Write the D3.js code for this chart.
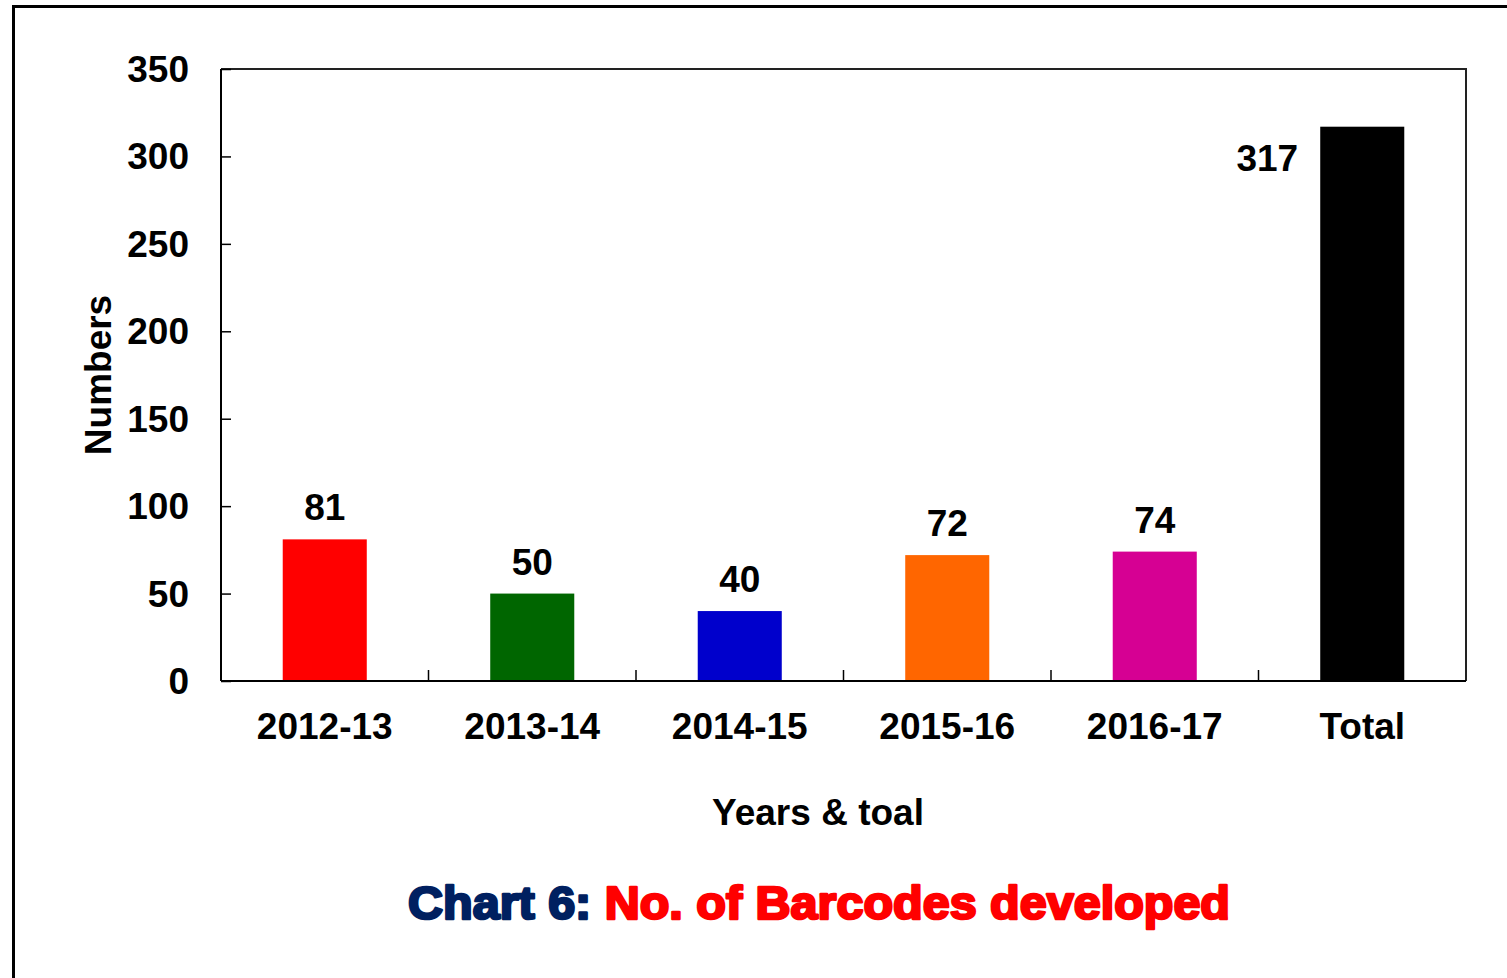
<!DOCTYPE html>
<html>
<head>
<meta charset="utf-8">
<script src="https://cdn.jsdelivr.net/npm/d3@7"></script>
<style>
  body { margin: 0; background: #fff; }
  text { font-family: "Liberation Sans", Arial, sans-serif; font-weight: bold; }
</style>
</head>
<body>
<svg width="1507" height="978"></svg>
<script>
// Chart data
var categories = ['2012-13', '2013-14', '2014-15', '2015-16', '2016-17', 'Total'];
var values = [81, 50, 40, 72, 74, 317];
var barColors = ['#ff0000', '#006600', '#0000cc', '#ff6600', '#d60093', '#000000'];
var yTicks = [0, 50, 100, 150, 200, 250, 300, 350];

var svg = d3.select('svg');

// Outer frame (runs off the right and bottom edges)
svg.append('rect')
    .attr('x', 13.5).attr('y', 6.5)
    .attr('width', 1600).attr('height', 1100)
    .attr('fill', 'none').attr('stroke', '#000').attr('stroke-width', 3);

var plot = {l: 221, t: 69, r: 1466, b: 681};

var xScale = d3.scaleBand()
    .domain(categories)
    .range([plot.l, plot.r])
    .paddingInner(0.595)
    .paddingOuter(0.2975);

var bandScale = d3.scaleBand()
    .domain(categories)
    .range([plot.l, plot.r]);

var yScale = d3.scaleLinear()
    .domain([0, 350])
    .range([plot.b, plot.t]);

// Bars
svg.selectAll('.bar')
    .data(values)
    .enter().append('rect')
    .attr('class', 'bar')
    .attr('x', function(d, i) { return xScale(categories[i]); })
    .attr('y', function(d) { return yScale(d); })
    .attr('width', xScale.bandwidth())
    .attr('height', function(d) { return yScale(0) - yScale(d); })
    .attr('fill', function(d, i) { return barColors[i]; });

// Plot frame top and right
svg.append('path')
    .attr('d', 'M' + plot.l + ',' + plot.t + 'H' + plot.r + 'V' + plot.b)
    .attr('fill', 'none').attr('stroke', '#222').attr('stroke-width', 2);

// Y axis, ticks pointing inward
var yAxisG = svg.append('g')
    .attr('transform', 'translate(' + plot.l + ',0)')
    .call(d3.axisRight(yScale).tickValues(yTicks).tickSize(10).tickFormat(''));
yAxisG.select('.domain').attr('stroke-width', 2).attr('d', 'M0,' + plot.t + 'V' + plot.b);
yAxisG.selectAll('.tick line').attr('stroke-width', 1.5);

svg.selectAll('.ylab')
    .data(yTicks)
    .enter().append('text')
    .attr('class', 'ylab')
    .attr('x', 189)
    .attr('y', function(d) { return yScale(d) + 13; })
    .attr('text-anchor', 'end')
    .attr('font-size', 37)
    .text(function(d) { return d; });

// X axis, ticks at category boundaries pointing inward
var xAxisG = svg.append('g')
    .attr('transform', 'translate(0,' + plot.b + ')');
xAxisG.append('line')
    .attr('x1', plot.l).attr('x2', plot.r)
    .attr('stroke', '#000').attr('stroke-width', 2);
xAxisG.selectAll('.xtick')
    .data(categories.slice(1))
    .enter().append('line')
    .attr('x1', function(d) { return bandScale(d); })
    .attr('x2', function(d) { return bandScale(d); })
    .attr('y1', 0).attr('y2', -11)
    .attr('stroke', '#000').attr('stroke-width', 1.5);

svg.selectAll('.xlab')
    .data(categories)
    .enter().append('text')
    .attr('class', 'xlab')
    .attr('x', function(d) { return xScale(d) + xScale.bandwidth() / 2; })
    .attr('y', 739)
    .attr('text-anchor', 'middle')
    .attr('font-size', 37)
    .text(function(d) { return d; });

// Value labels
svg.selectAll('.vlab')
    .data(values)
    .enter().append('text')
    .attr('class', 'vlab')
    .attr('x', function(d, i) {
        var cx = xScale(categories[i]) + xScale.bandwidth() / 2;
        return i === values.length - 1 ? cx - 95 : cx;
    })
    .attr('y', function(d, i) {
        return i === values.length - 1 ? yScale(d) + 44 : yScale(d) - 19;
    })
    .attr('text-anchor', 'middle')
    .attr('font-size', 37)
    .text(function(d) { return d; });

// Axis titles
svg.append('text')
    .attr('transform', 'translate(111,375) rotate(-90)')
    .attr('text-anchor', 'middle')
    .attr('font-size', 37)
    .text('Numbers');

svg.append('text')
    .attr('x', 818).attr('y', 825)
    .attr('text-anchor', 'middle')
    .attr('font-size', 37)
    .text('Years & toal');

// Chart caption
var cap = svg.append('text')
    .attr('x', 408).attr('y', 919)
    .attr('font-size', 47)
    .attr('stroke-width', 2.6)
    .attr('stroke-linejoin', 'round')
    .attr('textLength', 822)
    .attr('lengthAdjust', 'spacingAndGlyphs');
cap.append('tspan').attr('fill', '#002060').attr('stroke', '#002060').text('Chart 6: ');
cap.append('tspan').attr('fill', '#ff0000').attr('stroke', '#ff0000').text('No. of Barcodes developed');
</script>
</body>
</html>
